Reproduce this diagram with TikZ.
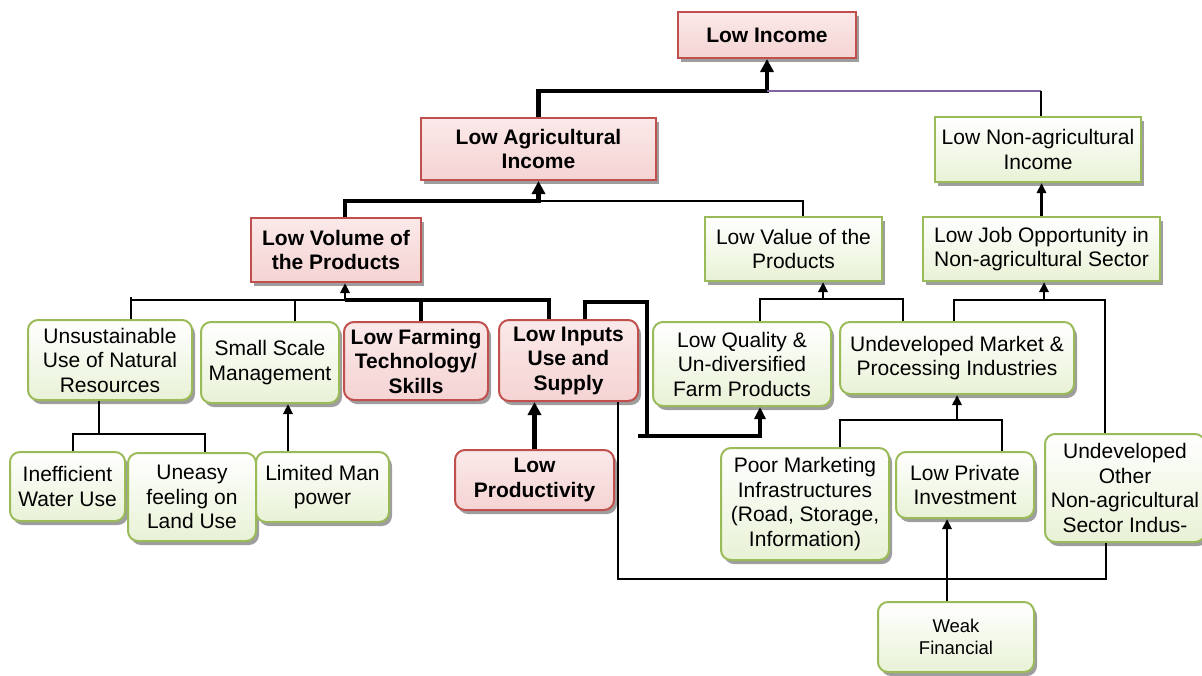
\documentclass[tikz,border=0pt]{standalone}
\usepackage{fontspec}
\setmainfont{Liberation Sans}
\usetikzlibrary{arrows.meta,shadows}
\definecolor{boxred}{HTML}{C0504D}
\definecolor{boxgreen}{HTML}{9BBB59}
\definecolor{redtop}{HTML}{FBE9E9}
\definecolor{redbot}{HTML}{F5D3D3}
\definecolor{greentop}{HTML}{FFFFFF}
\definecolor{greenbot}{HTML}{E8F2D6}
\definecolor{linkpurple}{HTML}{8064A2}
\newcommand\fsreg{\fontsize{21}{24.5}\selectfont}
\newcommand\fssmall{\fontsize{18.5}{22}\selectfont}
\begin{document}
\begin{tikzpicture}[x=1pt,y=-1pt,
 base/.style={inner sep=0pt, align=center, font=\fsreg, line width=2pt,
   drop shadow={shadow xshift=3pt, shadow yshift=-4pt, fill=black!38, opacity=1}},
 redbox/.style={base, draw=boxred, top color=redtop, bottom color=redbot, font=\fsreg\bfseries},
 greenbox/.style={base, draw=boxgreen, top color=greentop, bottom color=greenbot},
 rnd/.style={rounded corners=10pt},
 conthick/.style={line width=4.8pt},
 conmid/.style={line width=2.8pt},
 conthin/.style={line width=1.8pt},
 bigtip/.style={-{Triangle[width=13pt,length=13pt]}},
 medtip/.style={-{Triangle[width=11pt,length=12pt]}},
 smalltip/.style={-{Triangle[width=9pt,length=10pt]}},
]
\path[use as bounding box] (0,0) rectangle (1202,675);
\clip (0,0) rectangle (1202,675);

% nodes
\node[redbox, minimum width=178pt, minimum height=46pt] (lowinc) at (767,35) {Low Income};
\node[redbox, minimum width=235pt, minimum height=62pt] (lowagr) at (538.5,149) {Low Agricultural\\Income};
\node[greenbox, minimum width=206pt, minimum height=65pt] (nonagr) at (1038,149.5) {Low Non-agricultural\\Income};
\node[redbox, minimum width=170pt, minimum height=64pt] (volume) at (336,250) {Low Volume of\\the Products};
\node[greenbox, minimum width=177pt, minimum height=64pt] (value) at (793.5,249) {Low Value of the\\Products};
\node[greenbox, minimum width=237pt, minimum height=64pt] (job) at (1041.5,249) {Low Job Opportunity in\\Non-agricultural Sector};
\node[greenbox, rnd, minimum width=164pt, minimum height=80pt] (unsust) at (110,360) {Unsustainable\\Use of Natural\\Resources};
\node[greenbox, rnd, minimum width=138pt, minimum height=81pt] (small) at (270,362.5) {Small Scale\\Management};
\node[redbox, rnd, minimum width=144pt, minimum height=78pt] (farming) at (416,361) {Low Farming\\Technology/\\Skills};
\node[redbox, rnd, minimum width=139pt, minimum height=81pt] (inputs) at (568.5,360.5) {Low Inputs\\Use and\\Supply};
\node[greenbox, rnd, minimum width=178pt, minimum height=84pt] (quality) at (742,364) {Low Quality \&\\Un-diversified\\Farm Products};
\node[greenbox, rnd, minimum width=234pt, minimum height=72pt] (market) at (957,358) {Undeveloped Market \&\\Processing Industries};
\node[greenbox, rnd, minimum width=115pt, minimum height=69pt] (water) at (67.5,486.5) {Inefficient\\Water Use};
\node[greenbox, rnd, minimum width=128pt, minimum height=88pt] (uneasy) at (192,497) {Uneasy\\feeling on\\Land Use};
\node[greenbox, rnd, minimum width=133pt, minimum height=70pt] (manpower) at (322.5,487) {Limited Man\\power};
\node[redbox, rnd, minimum width=159pt, minimum height=60pt] (prod) at (534.5,480) {Low\\Productivity};
\node[greenbox, rnd, minimum width=168pt, minimum height=112pt] (poor) at (805,504) {Poor Marketing\\Infrastructures\\(Road, Storage,\\Information)};
\node[greenbox, rnd, minimum width=138pt, minimum height=66pt] (private) at (965,485) {Low Private\\Investment};
\node[greenbox, rnd, minimum width=160pt, minimum height=108pt] (other) at (1125,488) {Undeveloped\\Other\\Non-agricultural\\Sector Indus-};
\node[greenbox, rnd, font=\fssmall, minimum width=156pt, minimum height=70pt] (weak) at (956,637) {Weak\\Financial};

% junction points
\coordinate (j1) at (767,91);
\coordinate (j2) at (1041,91);
\coordinate (j3) at (538.5,201);
\coordinate (j4) at (345,300);
\coordinate (j5) at (647,302);
\coordinate (j6) at (647,436);
\coordinate (j7) at (638,436);
\coordinate (j8) at (823,299);
\coordinate (j9) at (1044,300);
\coordinate (j10) at (957,420);
\coordinate (j11) at (99,434);
\coordinate (j12) at (618,579);

% connectors
\draw[conthick,bigtip] (lowagr.north) |- (j1) -- (lowinc.south);
\draw[linkpurple, line width=2pt] (j1) -- (j2);
\draw[conthin] (j2) -- (j2 |- nonagr.north);
\draw[conthick,bigtip] ([xshift=9pt]volume.north) |- (j3) -- (lowagr.south);
\draw[conthin] (j3) -| ([xshift=9.5pt]value.north);
\draw[conmid,smalltip] (job.north) -- (job.north |- nonagr.south);

\draw[conthin] ([xshift=21pt]unsust.north) |- (j4);
\draw[conmid] ([xshift=21pt]unsust.north) -- ++(0,-22);
\draw[conthin] ([xshift=25pt]small.north) -- ++(0,-22);
\draw[conmid,smalltip] (j4) -- (j4 |- volume.south);
\draw[conthick] (j4) -| ([xshift=-19.5pt]inputs.north);
\draw[conthick] ([xshift=5pt]farming.north) -- ++(0,-22);

\draw[conthick,medtip] ([xshift=16.5pt]inputs.north) |- (j5) -- (j6) -| ([xshift=18pt]quality.south);
\draw[conthick] (j7) -- (j6);

\draw[conmid] ([xshift=18pt]quality.north) |- (j8) -| ([xshift=-54pt]market.north);
\draw[conmid,smalltip] (j8) -- (j8 |- value.south);
\draw[conmid] ([xshift=-3pt]market.north) |- (j9) -| ([xshift=-20pt]other.north);
\draw[conmid,smalltip] (j9) -- (j9 |- job.south);
\draw[conmid] ([xshift=35pt]poor.north) |- (j10) -| ([xshift=37pt]private.north);
\draw[conmid,smalltip] (j10) -- (market.south);

\draw[conmid] ([xshift=-11pt]unsust.south) -- (j11);
\draw[conmid] ([xshift=5.5pt]water.north) |- (j11) -| ([xshift=13pt]uneasy.north);
\draw[conmid,smalltip] ([xshift=-34.5pt]manpower.north) -- ([xshift=18pt]small.south);
\draw[conthick,bigtip] (prod.north) -- (prod.north |- inputs.south);

\draw[conthin] ([xshift=49.5pt]inputs.south) -- (j12) -| ([xshift=-19pt]other.south);
\draw[conmid,smalltip] ([xshift=-9pt]weak.north) -- ([xshift=-18pt]private.south);
\end{tikzpicture}
\end{document}
